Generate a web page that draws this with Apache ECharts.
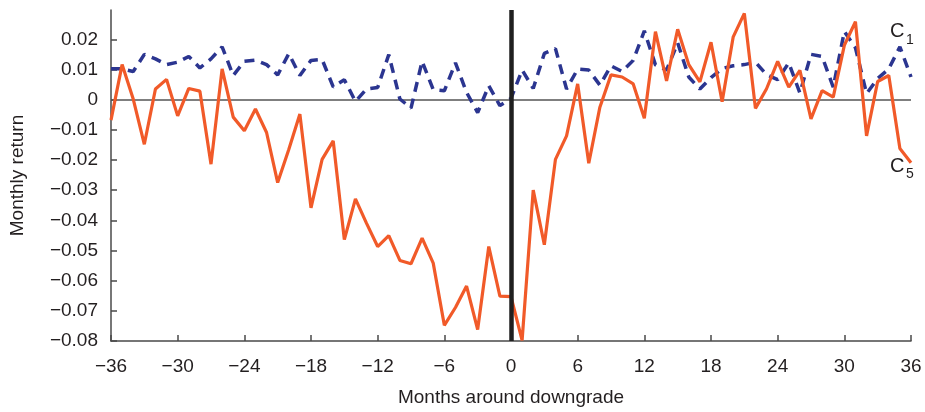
<!DOCTYPE html>
<html>
<head>
<meta charset="utf-8">
<script src="https://cdn.jsdelivr.net/npm/echarts@6/dist/echarts.min.js"></script>
<style>
html,body{margin:0;padding:0;background:#fff;}
#chart{width:925px;height:412px;}
</style>
</head>
<body>
<div id="chart"></div>
<script>
// Months around downgrade
var months = [-36,-35,-34,-33,-32,-31,-30,-29,-28,-27,-26,-25,-24,-23,-22,-21,-20,-19,-18,-17,
  -16,-15,-14,-13,-12,-11,-10,-9,-8,-7,-6,-5,-4,-3,-2,-1,0,1,2,3,4,5,6,7,8,9,10,11,12,13,
  14,15,16,17,18,19,20,21,22,23,24,25,26,27,28,29,30,31,32,33,34,35,36];

// C5 portfolio monthly return (solid orange)
var c5 = [-0.0068, 0.0116, 0.0002, -0.0148, 0.0035, 0.0067, -0.0054, 0.0037, 0.0028, -0.0214,
  0.0102, -0.0058, -0.0103, -0.0031, -0.0109, -0.0275, -0.0165, -0.0048, -0.0359, -0.0198,
  -0.0137, -0.0464, -0.0329, -0.041, -0.0487, -0.0451, -0.0533, -0.0544, -0.0459, -0.0542,
  -0.0748, -0.0689, -0.0618, -0.0762, -0.0487, -0.0651, -0.0653, -0.0798, -0.030, -0.0481,
  -0.0198, -0.012, 0.0052, -0.0211, -0.0025, 0.0082, 0.0075, 0.0052, -0.0062, 0.0225,
  0.0062, 0.0233, 0.0116, 0.0059, 0.019, -0.0007, 0.0208, 0.0286, -0.0029, 0.0036,
  0.0127, 0.0041, 0.0097, -0.0064, 0.003, 0.0008, 0.018, 0.0258, -0.012, 0.006,
  0.008, -0.0162, -0.0209];

// C1 portfolio monthly return (dashed blue)
var c1 = [0.0102, 0.0102, 0.0093, 0.015, 0.0135, 0.0116, 0.0124, 0.0143, 0.0105, 0.0135,
  0.0175, 0.008, 0.0127, 0.0131, 0.0116, 0.0082, 0.0152, 0.008, 0.013, 0.0133,
  0.0042, 0.0066, -0.0006, 0.0035, 0.004, 0.0149, 0.0002, -0.0028, 0.0127, 0.0033,
  0.0029, 0.0122, 0.0024, -0.0043, 0.0046, -0.002, 0.0004, 0.0098, 0.0037, 0.0153,
  0.0169, 0.0035, 0.0101, 0.0098, 0.0048, 0.0112, 0.0093, 0.013, 0.0228, 0.0115,
  0.0098, 0.0188, 0.0075, 0.0035, 0.0073, 0.0103, 0.0112, 0.0116, 0.0124, 0.0083,
  0.0066, 0.0122, 0.0022, 0.015, 0.0143, 0.0041, 0.0226, 0.0172, 0.002, 0.007,
  0.0102, 0.0175, 0.0075];

var yTicks = [-0.08,-0.07,-0.06,-0.05,-0.04,-0.03,-0.02,-0.01,0,0.01,0.02];
var xTicks = [-36,-30,-24,-18,-12,-6,0,6,12,18,24,30,36];

function pairs(xs, ys){ return xs.map(function(x,i){ return [x, ys[i]]; }); }
function minus(s){ return String(s).replace('-', '\u2212'); }

var TXT = '#231f20';
var AX = '#4a4a4a';
var FONT = '"Liberation Sans", Arial, sans-serif';
var FS = 19;

var chart = echarts.init(document.getElementById('chart'), null, {renderer:'canvas'});
chart.setOption({
  animation: false,
  backgroundColor: '#fff',
  textStyle: {fontFamily: FONT},
  grid: {left: 111, right: 14, top: 10, bottom: 71, containLabel: false, outerBoundsMode: 'none'},
  xAxis: {
    type: 'value', min: -36, max: 36, interval: 6,
    name: 'Months around downgrade', nameLocation: 'middle', nameGap: 47,
    nameTextStyle: {fontSize: FS, color: TXT, fontFamily: FONT},
    axisLine: {show: true, onZero: false, lineStyle: {color: AX, width: 1.5}},
    axisTick: {show: true, inside: true, length: 6, lineStyle: {color: AX, width: 1.5}, customValues: xTicks},
    axisLabel: {fontSize: FS, color: TXT, margin: 16, fontFamily: FONT, customValues: xTicks,
      formatter: function(v){ return minus(v); }},
    splitLine: {show: false}
  },
  yAxis: {
    type: 'value', min: -0.08, max: 0.0297,
    name: 'Monthly return', nameLocation: 'middle', nameGap: 84,
    nameTextStyle: {fontSize: FS, color: TXT, fontFamily: FONT},
    axisLine: {show: true, onZero: false, lineStyle: {color: AX, width: 1.5}},
    axisTick: {show: true, inside: true, length: 6, lineStyle: {color: AX, width: 1.5}, customValues: yTicks},
    axisLabel: {fontSize: FS, color: TXT, margin: 13, fontFamily: FONT, customValues: yTicks,
      formatter: function(v){ var r = Math.round(v*100)/100; return r === 0 ? '0' : minus(r.toFixed(2)); }},
    splitLine: {show: false}
  },
  series: [
    {
      name: 'C1', type: 'line', data: pairs(months, c1), showSymbol: false, z: 3,
      lineStyle: {color: '#2b3590', width: 3.5, type: [10, 7]},
      markLine: {
        silent: true, symbol: 'none', label: {show: false}, z: 1,
        data: [{yAxis: 0, lineStyle: {color: '#555', width: 1.5, type: 'solid'}}]
      }
    },
    {
      name: 'C5', type: 'line', data: pairs(months, c5), showSymbol: false, z: 4,
      lineStyle: {color: '#f15a29', width: 3.2},
      markLine: {
        silent: true, symbol: 'none', label: {show: false}, z: 5,
        data: [{xAxis: 0, lineStyle: {color: '#1f1f1f', width: 4.5, type: 'solid'}}]
      }
    }
  ],
  graphic: [
    {type: 'text', left: 890, top: 21, style: {text: 'C', fontSize: 20, fill: TXT, fontFamily: FONT}},
    {type: 'text', left: 906, top: 33, style: {text: '1', fontSize: 14, fill: TXT, fontFamily: FONT}},
    {type: 'text', left: 890, top: 156, style: {text: 'C', fontSize: 20, fill: TXT, fontFamily: FONT}},
    {type: 'text', left: 906, top: 167, style: {text: '5', fontSize: 14, fill: TXT, fontFamily: FONT}}
  ]
});
</script>
</body>
</html>
